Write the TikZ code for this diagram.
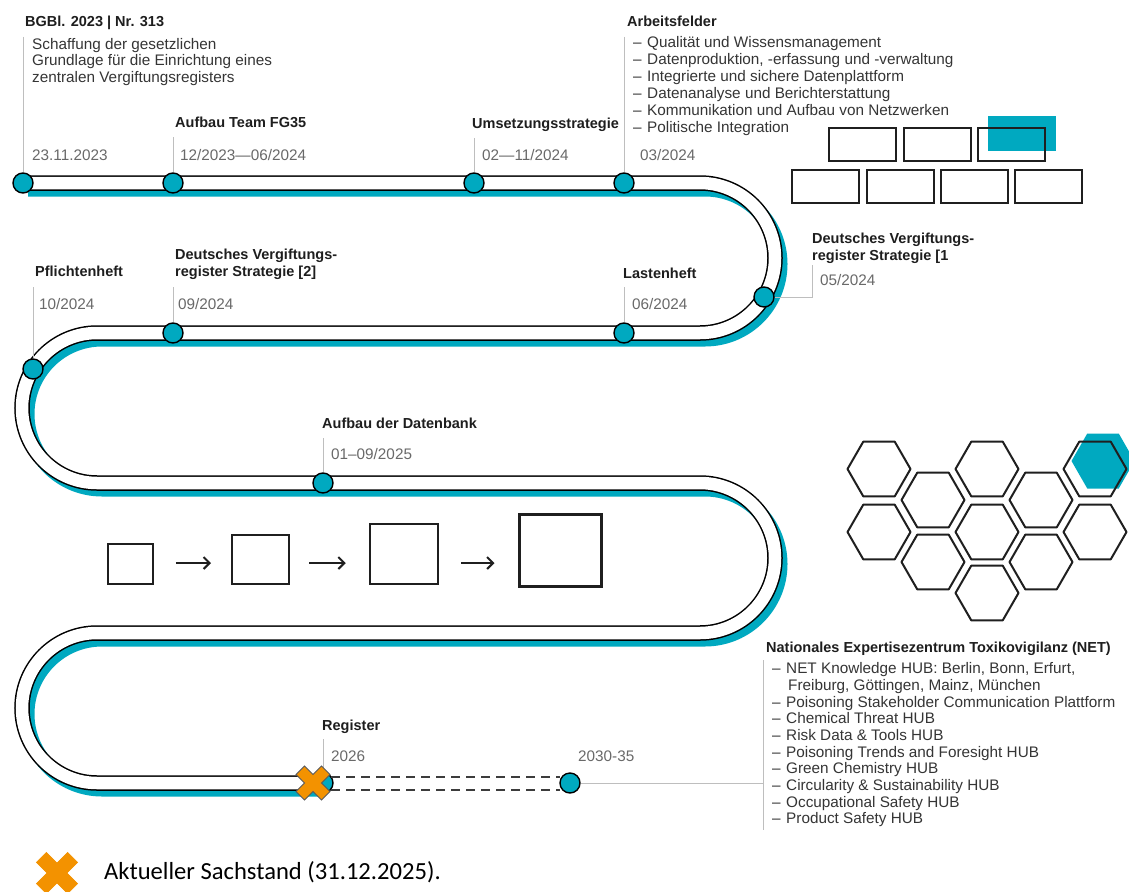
\documentclass[tikz,border=0pt]{standalone}
\usepackage{fontspec}
\setmainfont{Liberation Sans}
\newfontfamily\calibrifont{Carlito}
\usetikzlibrary{calc,arrows.meta}
\definecolor{tealc}{RGB}{0,169,192}
\definecolor{orangec}{RGB}{243,146,0}
\definecolor{datec}{RGB}{105,105,105}
\definecolor{textc}{RGB}{30,30,30}
\definecolor{markc}{RGB}{190,190,190}
\definecolor{dashc}{RGB}{60,60,60}
\newcommand{\itemdash}{–\hspace{5.5pt}}
\tikzset{
 lbl/.style={anchor=base west, inner sep=0pt, font=\fontsize{14.5}{16.7}\selectfont\bfseries, text=textc},
 datelbl/.style={anchor=base west, inner sep=0pt, font=\fontsize{15.3}{17}\selectfont, text=datec},
 txt/.style={anchor=base west, inner sep=0pt, font=\fontsize{15.3}{16.7}\selectfont, text=textc!90},
 dot/.style={circle, fill=tealc, draw=black, line width=1.4pt, minimum size=20pt, inner sep=0pt},
 marker/.style={draw=markc, line width=1pt},
 brick/.style={draw=black!88, line width=2pt},
 hexst/.style={draw=black!88, line width=2pt, line join=round},
 sq/.style={draw=black!88, inner sep=0pt, fill=white},
 futdash/.style={dashc, line width=2pt, dash pattern=on 9pt off 6pt},
 growarrow/.style={-{Straight Barb[length=6pt,width=12pt]}, line width=2pt, black!88},
 trackp/.style={insert path={(23,183) -- (700,183) arc[start angle=90,end angle=-90,radius=75pt] -- (97,333) arc[start angle=90,end angle=270,radius=75pt] -- (700,483) arc[start angle=90,end angle=-90,radius=75pt] -- (97,633) arc[start angle=90,end angle=270,radius=75pt] -- (313,783)}},
 pics/xcross/.style args={#1/#2/#3}{code={\filldraw[fill=orangec, draw=#3, line width=0.8pt, rotate=45] (#1,#2) -- (#1,#1) -- (#2,#1) -- (#2,-#1) -- (#1,-#1) -- (#1,-#2) -- (-#1,-#2) -- (-#1,-#1) -- (-#2,-#1) -- (-#2,#1) -- (-#1,#1) -- (-#1,#2) -- cycle;}},
}
\begin{document}
\begin{tikzpicture}[x=1pt,y=-1pt]
\useasboundingbox[fill=white] (0,0) rectangle (1129,891);

% ---------- track ----------
\draw[tealc, line width=15pt, shift={(5,6)}, trackp];
\draw[black, line width=15.5pt, trackp];
\draw[white, line width=12.5pt, trackp];

% ---------- circles ----------
\node[dot] (c1) at (23,183) {};
\node[dot] (c2) at (173,183) {};
\node[dot] (c3) at (474,183) {};
\node[dot] (c4) at (624,183) {};
\node[dot] (c5) at (764,297) {};
\node[dot] (c6) at (624,333) {};
\node[dot] (c7) at (173,333) {};
\node[dot] (c8) at (33,369) {};
\node[dot] (c9) at (323,483) {};
\node[dot] (c10) at (323,783) {};
\node[dot] (c11) at (570,783) {};

% ---------- dashed future track ----------
\draw[futdash] ($(c10)+(8,-6.5)$) -- ($(c11)+(-10,-6.5)$);
\draw[futdash] ($(c10)+(8,6.5)$) -- ($(c11)+(-10,6.5)$);

% ---------- markers ----------
\draw[marker] (23,37) -- (c1.north);
\draw[marker] (173,137) -- (c2.north);
\draw[marker] (474,138) -- (c3.north);
\draw[marker] (624,37) -- (c4.north);
\draw[marker] (c5.east) -- (812,297) -- (812,265);
\draw[marker] (624,287) -- (c6.north);
\draw[marker] (173,287) -- (c7.north);
\draw[marker] (33,287) -- (c8.north);
\draw[marker] (323,438) -- (c9.north);
\draw[marker] (323,739) -- (c10.north);
\coordinate (netl) at (763,783);
\draw[marker] (c11.east) -- (netl);
\draw[marker] (763,660) -- (763,830);

% ---------- top labels ----------
\node[lbl] (l1) at (25,27) {BGBl. 2023 | Nr. 313};
\node[txt] (d1a) at (32,49) {Schaffung der gesetzlichen};
\node[txt] (d1b) at (32,65.5) {Grundlage für die Einrichtung eines};
\node[txt] (d1c) at (32,82) {zentralen Vergiftungsregisters};
\node[datelbl] (t1) at (32,160) {23.11.2023};

\node[lbl] (l2) at (175,127) {Aufbau Team FG35};
\node[datelbl] (t2) at (180,160) {12/2023—06/2024};

\node[lbl] (l3) at (472,128) {Umsetzungsstrategie};
\node[datelbl] (t3) at (482,160) {02—11/2024};

\node[lbl] (l4) at (627,27) {Arbeitsfelder};
\foreach \t [count=\i] in {Qualität und Wissensmanagement, {Datenproduktion, -erfassung und -verwaltung}, Integrierte und sichere Datenplattform, Datenanalyse und Berichterstattung, Kommunikation und Aufbau von Netzwerken, Politische Integration}
  \node[txt] (af\i) at (633,{48+16.8*(\i-1)}) {\itemdash\t};
\node[datelbl] (t4) at (640,160) {03/2024};

% ---------- bricks ----------
\fill[tealc] (988,116) rectangle (1056,151);
\draw[brick] (829,128) rectangle (896,161);
\draw[brick] (904,128) rectangle (971,161);
\draw[brick] (978,128) rectangle (1045,161);
\draw[brick] (792,170) rectangle (859,203);
\draw[brick] (867,170) rectangle (934,203);
\draw[brick] (941,170) rectangle (1008,203);
\draw[brick] (1015,170) rectangle (1082,203);

% ---------- second row labels ----------
\node[lbl] (l5a) at (812,243) {Deutsches Vergiftungs-};
\node[lbl] (l5b) at (812,260) {register Strategie [1};
\node[datelbl] (t5) at (820,285) {05/2024};

\node[lbl] (l6) at (623,278) {Lastenheft};
\node[datelbl] (t6) at (632,309) {06/2024};

\node[lbl] (l7a) at (175,259) {Deutsches Vergiftungs-};
\node[lbl] (l7b) at (175,276) {register Strategie [2]};
\node[datelbl] (t7) at (178,309) {09/2024};

\node[lbl] (l8) at (35,276) {Pflichtenheft};
\node[datelbl] (t8) at (39,309) {10/2024};

\node[lbl] (l9) at (322,428) {Aufbau der Datenbank};
\node[datelbl] (t9) at (331,459) {01–09/2025};

% ---------- growing squares ----------
\node[sq, line width=1.5pt, minimum width=45pt, minimum height=40pt] (s1) at (130.5,564) {};
\node[sq, line width=2pt, minimum width=57pt, minimum height=49pt] (s2) at (260.5,559.5) {};
\node[sq, line width=2.5pt, minimum width=68pt, minimum height=60pt] (s3) at (404,554) {};
\node[sq, line width=3pt, minimum width=82pt, minimum height=72pt] (s4) at (560,550) {};
\draw[growarrow, shorten <=22pt, shorten >=20pt] (s1.east |- 0,563) -- (s2.west |- 0,563);
\draw[growarrow, shorten <=19pt, shorten >=23pt] (s2.east |- 0,563) -- (s3.west |- 0,563);
\draw[growarrow, shorten <=22pt, shorten >=23pt] (s3.east |- 0,563) -- (s4.west |- 0,563);

% ---------- hexagons ----------
\fill[tealc] (1134.5,461) -- (1118.75,433.5) -- (1087.25,433.5) -- (1071.5,461) -- (1087.25,488.5) -- (1118.75,488.5) -- cycle;
\foreach \x/\y in {879/469, 879/532, 933/500, 933/562, 987/469, 987/532, 987/593, 1041/500, 1041/562, 1095/469, 1095/532}
  \draw[hexst] (\x+31.5,\y) -- (\x+15.75,\y+27.3) -- (\x-15.75,\y+27.3) -- (\x-31.5,\y) -- (\x-15.75,\y-27.3) -- (\x+15.75,\y-27.3) -- cycle;

% ---------- register ----------
\pic at (313,783) {xcross=6/18/black!65};
\node[lbl] (l10) at (322,730) {Register};
\node[datelbl] (t10) at (331,761) {2026};
\node[datelbl] (t11) at (578,761) {2030-35};

% ---------- NET ----------
\node[lbl] (l12) at (766,652) {Nationales Expertisezentrum Toxikovigilanz (NET)};
\node[txt] (n1) at (772,673) {\itemdash NET Knowledge HUB: Berlin, Bonn, Erfurt,};
\node[txt] (n1b) at (788,690) {Freiburg, Göttingen, Mainz, München};
\foreach \t [count=\i] in {Poisoning Stakeholder Communication Plattform, Chemical Threat HUB, Risk Data \& Tools HUB, Poisoning Trends and Foresight HUB, Green Chemistry HUB, Circularity \& Sustainability HUB, Occupational Safety HUB, Product Safety HUB}
  \node[txt] (n\i x) at (772,{707+16.7*(\i-1)}) {\itemdash\t};

% ---------- legend ----------
\pic at (57,873) {xcross=7/22/orangec};
\node[anchor=base west, inner sep=0pt, font=\calibrifont\fontsize{24.6}{27}\selectfont, text=black] (leg) at (104,879) {Aktueller Sachstand (31.12.2025).};
\end{tikzpicture}
\end{document}
